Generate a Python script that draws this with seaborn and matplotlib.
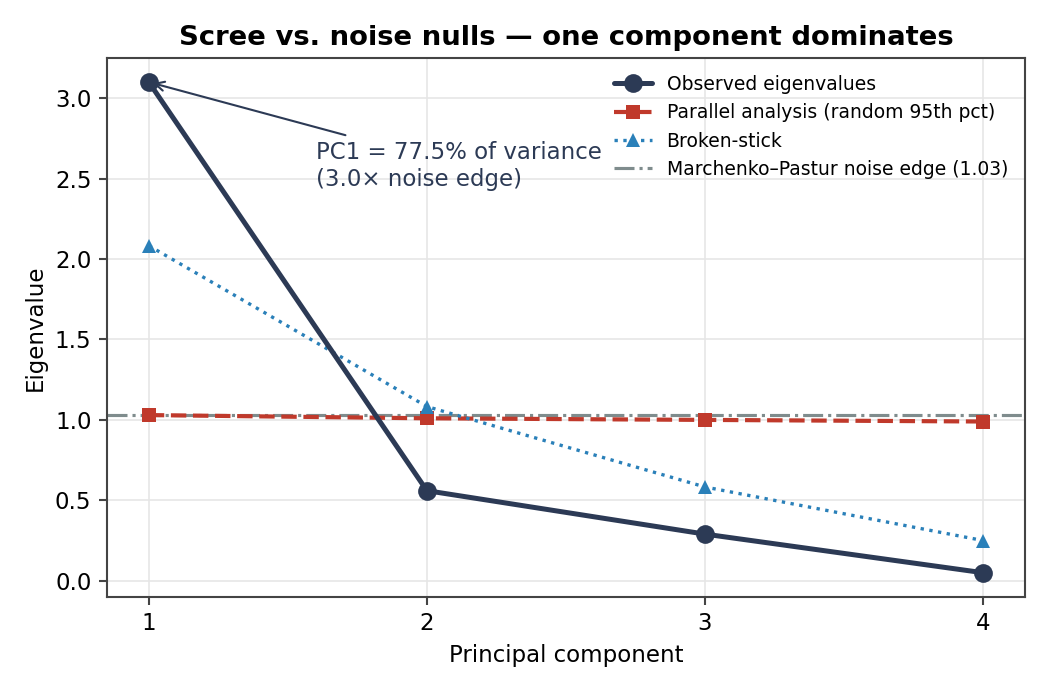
import numpy as np
import pandas as pd
import matplotlib
matplotlib.use("Agg")
import matplotlib.pyplot as plt
import seaborn as sns

# Dados
components = [1, 2, 3, 4]
observed = [3.10, 0.56, 0.29, 0.05]
parallel_95 = [1.03, 1.01, 1.00, 0.99]
broken_stick = [2.083, 1.083, 0.583, 0.25]
mp_edge = 1.03

sns.set_theme(style="whitegrid")
plt.rcParams['font.family'] = ['DejaVu Sans']
plt.rcParams['text.color'] = 'black'
plt.rcParams['axes.labelcolor'] = 'black'
plt.rcParams['xtick.color'] = 'black'
plt.rcParams['ytick.color'] = 'black'

df = pd.DataFrame({
    'pc': components,
    'observed': observed,
    'parallel': parallel_95,
    'broken': broken_stick,
})

fig, ax = plt.subplots(figsize=(7, 4.6), dpi=150)
ax.set_facecolor('white')

sns.lineplot(data=df, x='pc', y='observed', ax=ax, color='#2c3a55', lw=2.4,
             marker='o', markersize=9, markeredgewidth=0,
             label='Observed eigenvalues', zorder=4)
sns.lineplot(data=df, x='pc', y='parallel', ax=ax, color='#c0392b', lw=2,
             linestyle='--', marker='s', markersize=7, markeredgewidth=0,
             label='Parallel analysis (random 95th pct)', zorder=3)
sns.lineplot(data=df, x='pc', y='broken', ax=ax, color='#2a80b9', lw=1.6,
             linestyle=':', marker='^', markersize=7, markeredgewidth=0,
             label='Broken-stick', zorder=3)
ax.axhline(mp_edge, color='#7f8c8d', lw=1.5, linestyle='-.',
           label=f'Marchenko\u2013Pastur noise edge ({mp_edge:.2f})', zorder=2)

pct = observed[0] / sum(observed) * 100
ax.annotate(f'PC1 = {pct:.1f}% of variance\n({observed[0] / mp_edge:.1f}\u00d7 noise edge)',
            xy=(components[0], observed[0]), xytext=(1.6, 2.58),
            va='center', ha='left', fontsize=11, color='#2c3a55',
            arrowprops=dict(arrowstyle='->', color='#2c3a55', lw=1))

ax.set_xlim(0.85, 4.15)
ax.set_ylim(-0.1, 3.25)
ax.set_xticks(components)
ax.set_xlabel('Principal component', fontsize=11)
ax.set_ylabel('Eigenvalue', fontsize=11)
ax.set_title('Scree vs. noise nulls \u2014 one component dominates',
             fontsize=13.2, fontweight='bold')
ax.tick_params(axis='both', labelsize=11, length=4, width=1, color='#444444',
               left=True, bottom=True)
ax.grid(True, color='#e6e6e6', lw=0.8)
for s in ax.spines.values():
    s.set_color('#444444')
    s.set_linewidth(1)

ax.legend(loc='upper right', frameon=False, fontsize=9)

fig.subplots_adjust(left=0.102, right=0.976, top=0.916, bottom=0.135)
plt.savefig('out.png', dpi=150)
plt.close()
